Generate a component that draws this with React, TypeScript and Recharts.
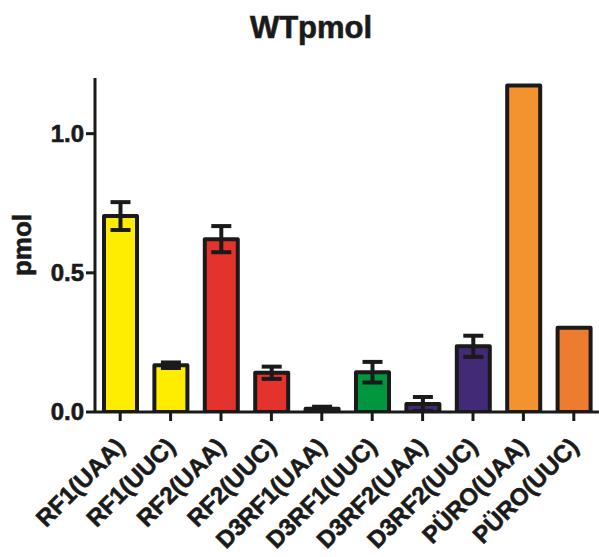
import React from "react";
import { BarChart, Bar, XAxis, YAxis, ErrorBar, Cell } from "recharts";

const categories = ["RF1(UAA)", "RF1(UUC)", "RF2(UAA)", "RF2(UUC)", "D3RF1(UAA)", "D3RF1(UUC)", "D3RF2(UAA)", "D3RF2(UUC)", "PÜRO(UAA)", "PÜRO(UUC)"];
const values = [0.704, 0.168, 0.621, 0.141, 0.012, 0.143, 0.029, 0.236, 1.173, 0.303];
const errors = [0.05, 0.01, 0.047, 0.022, 0.007, 0.037, 0.025, 0.038, 0, 0];
const colors = ["#FFED00", "#FFED00", "#E4332C", "#E4332C", "#1a1a1a", "#009640", "#432A77", "#432A77", "#F29330", "#EE7C30"];
const yTicks = [0, 0.5, 1.0];

const data = categories.map((c, i) => ({ name: c, value: values[i], err: errors[i] }));

const FONT = "'Liberation Sans', Arial, sans-serif";
const INK = "#1a1a1a";

const XTick = (props: any) => {
  const { x, y, payload } = props;
  const ax = x + 6;
  const ay = y + 25;
  return (
    <text x={ax} y={ay} transform={`rotate(-45 ${ax} ${ay})`} textAnchor="end" fontFamily={FONT} fontWeight="bold" fontSize={24} fill={INK} stroke={INK} strokeWidth={0.6}>
      {payload.value}
    </text>
  );
};

const YTick = (props: any) => {
  const { x, y, payload } = props;
  return (
    <text x={x} y={y + 8} textAnchor="end" fontFamily={FONT} fontWeight="bold" fontSize={24} fill={INK} stroke={INK} strokeWidth={0.6}>
      {payload.value.toFixed(1)}
    </text>
  );
};

export default function App() {
  return (
    <div style={{ position: "absolute", left: 0, top: 0, width: 599, height: 557, background: "#fff" }}>
      <svg style={{ position: "absolute", left: 0, top: 0 }} width={599} height={60}>
        <text x={311} y={38} textAnchor="middle" fontFamily={FONT} fontWeight="bold" fontSize={31} fill={INK} stroke={INK} strokeWidth={0.6}>WTpmol</text>
      </svg>
      <svg style={{ position: "absolute", left: 0, top: 0, pointerEvents: "none" }} width={60} height={557}>
        <text x={0} y={0} transform="translate(31 245) rotate(-90)" textAnchor="middle" fontFamily={FONT} fontWeight="bold" fontSize={26} fill={INK} stroke={INK} strokeWidth={0.6}>pmol</text>
      </svg>
      <div style={{ position: "absolute", left: 0, top: 0 }}>
        <BarChart width={599} height={557} data={data} margin={{ top: 78, right: 0, bottom: 0, left: 0 }} barSize={33}>
          <XAxis dataKey="name" height={145} interval={0} tick={<XTick />} axisLine={{ stroke: INK, strokeWidth: 3 }} tickLine={{ stroke: INK, strokeWidth: 3 }} tickSize={9} />
          <YAxis width={95} domain={[0, 1.2]} ticks={yTicks} tick={<YTick />} axisLine={{ stroke: INK, strokeWidth: 3 }} tickLine={{ stroke: INK, strokeWidth: 3 }} tickSize={9} allowDataOverflow />
          <Bar dataKey="value" stroke={INK} strokeWidth={4} strokeLinejoin="round" isAnimationActive={false}>
            {data.map((d, i) => (
              <Cell key={i} fill={colors[i]} />
            ))}
            <ErrorBar dataKey="err" width={10} stroke={INK} strokeWidth={4} direction="y" />
          </Bar>
        </BarChart>
      </div>
    </div>
  );
}
